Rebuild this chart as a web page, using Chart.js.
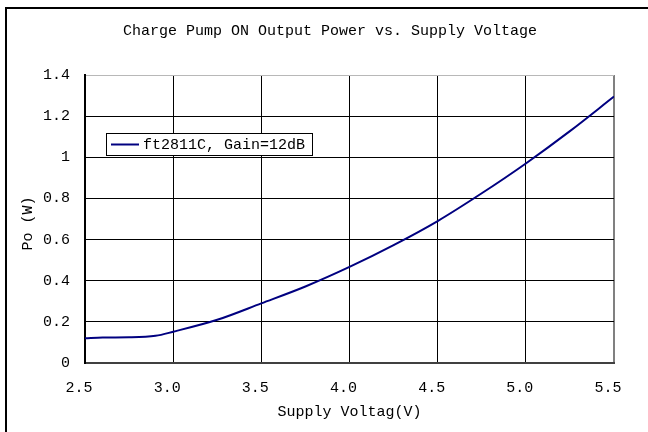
<!DOCTYPE html>
<html>
<head>
<meta charset="utf-8">
<script src="https://cdn.jsdelivr.net/npm/chart.js@4.4.1/dist/chart.umd.min.js"></script>
<style>
  body { margin: 0; background: #fff; }
  #wrap { width: 648px; height: 432px; }
</style>
</head>
<body>
<div id="wrap"><canvas id="grafico" width="648" height="432"></canvas></div>
<script>
// Datos
const voltaje = [2.5, 2.6, 2.75, 2.9, 3.0, 3.25, 3.5, 3.75, 4.0, 4.25, 4.5, 4.75, 5.0, 5.25, 5.5];
const potencia = [0.12, 0.124, 0.125, 0.132, 0.152, 0.21, 0.29, 0.372, 0.467, 0.573, 0.69, 0.825, 0.97, 1.127, 1.295];
const etiquetaSerie = 'ft2811C, Gain=12dB';
const titulo = 'Charge Pump ON Output Power vs. Supply Voltage';
const tituloX = 'Supply Voltag(V)';
const tituloY = 'Po (W) ';

Chart.defaults.font.family = "'Liberation Mono', monospace";
Chart.defaults.font.size = 15;
Chart.defaults.color = '#000';

// Marco exterior del gráfico
const marco = {
    id: 'marco',
    beforeDraw(chart) {
        const ctx = chart.ctx;
        ctx.save();
        ctx.fillStyle = '#fff';
        ctx.fillRect(0, 0, chart.width, chart.height);
        ctx.strokeStyle = '#000';
        ctx.lineWidth = 2;
        ctx.strokeRect(6, 8, chart.width + 20, chart.height + 20);
        ctx.restore();
    }
};

// Leyenda con recuadro dentro del área de trazado
const leyenda = {
    id: 'leyenda',
    afterDatasetsDraw(chart) {
        const ctx = chart.ctx;
        const ds = chart.data.datasets[0];
        const x = chart.chartArea.left + 21;
        const y = chart.chartArea.top + 58;
        ctx.save();
        ctx.fillStyle = '#fff';
        ctx.fillRect(x, y, 206, 22);
        ctx.strokeStyle = '#000';
        ctx.lineWidth = 1;
        ctx.strokeRect(x + 0.5, y + 0.5, 206, 22);
        ctx.strokeStyle = ds.borderColor;
        ctx.lineWidth = 2;
        ctx.beginPath();
        ctx.moveTo(x + 5, y + 11.5);
        ctx.lineTo(x + 33, y + 11.5);
        ctx.stroke();
        ctx.fillStyle = '#000';
        ctx.font = "15px 'Liberation Mono', monospace";
        ctx.textBaseline = 'middle';
        ctx.textAlign = 'left';
        ctx.fillText(ds.label, x + 37, y + 12);
        ctx.restore();
    }
};

const ctx = document.getElementById('grafico').getContext('2d');
new Chart(ctx, {
    type: 'line',
    data: {
        datasets: [{
            label: etiquetaSerie,
            data: voltaje.map((v, i) => ({ x: v, y: potencia[i] })),
            borderColor: '#000080',
            borderWidth: 2,
            pointRadius: 0,
            fill: false,
            cubicInterpolationMode: 'monotone'
        }]
    },
    options: {
        responsive: false,
        animation: false,
        layout: { padding: { left: 12, right: 0, top: 0, bottom: 0 } },
        plugins: {
            legend: { display: false },
            tooltip: { enabled: false },
            title: {
                display: true,
                text: titulo,
                font: { size: 15, weight: 'normal' },
                color: '#000',
                padding: { top: 22, bottom: 35 }
            }
        },
        scales: {
            x: {
                type: 'linear',
                min: 2.5,
                max: 5.5,
                afterFit: s => { s.height = 69; },
                ticks: {
                    stepSize: 0.5,
                    padding: 16,
                    labelOffset: -6,
                    callback: v => v.toFixed(1)
                },
                grid: {
                    drawTicks: false,
                    color: c => (c.tick && Math.abs(c.tick.value - 5.5) < 1e-9) ? '#808080' : '#000',
                    lineWidth: c => (c.tick && Math.abs(c.tick.value - 5.5) < 1e-9) ? 2 : 1
                },
                border: { display: true, color: '#404040', width: 2 },
                title: {
                    display: true,
                    text: tituloX,
                    font: { size: 15 },
                    padding: { top: 0, bottom: 11 }
                }
            },
            y: {
                min: 0,
                max: 1.4,
                afterFit: s => { s.width = 73; },
                ticks: {
                    stepSize: 0.2,
                    padding: 15,
                    callback: v => {
                        if (Math.abs(v) < 1e-9) return '0';
                        if (Math.abs(v - 1) < 1e-9) return '1';
                        return v.toFixed(1);
                    }
                },
                grid: {
                    drawTicks: false,
                    color: c => (c.tick && Math.abs(c.tick.value - 1.4) < 1e-9) ? '#b8b8b8' : '#000'
                },
                border: { display: true, color: '#000', width: 2 },
                title: {
                    display: true,
                    text: tituloY,
                    font: { size: 15 },
                    padding: { top: 7, bottom: 0 }
                }
            },
            derecha: {
                type: 'linear',
                position: 'right',
                afterFit: s => { s.width = 34; },
                ticks: { display: false },
                grid: { display: false, drawTicks: false },
                border: { display: false }
            }
        }
    },
    plugins: [marco, leyenda]
});
</script>
</body>
</html>
